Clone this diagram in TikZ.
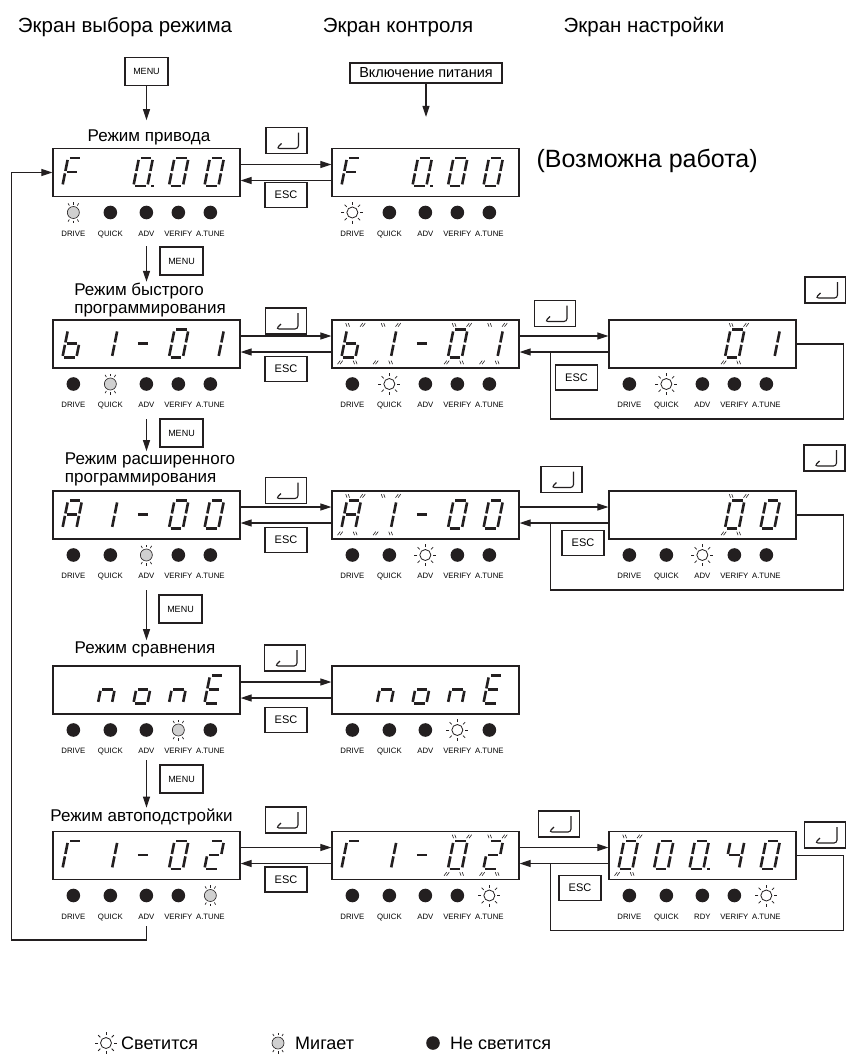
\documentclass[tikz,border=0pt]{standalone}
\usepackage{fontspec}
\setmainfont{Liberation Sans}
\usetikzlibrary{positioning,arrows.meta,calc}
\definecolor{Ink}{RGB}{35,31,32}
\definecolor{Blink}{RGB}{208,208,208}

% segment end points of one slanted digit (local units, y up)
\newcommand\segpoints{%
  \coordinate (a1) at (1.8,28);  \coordinate (a2) at (12.2,28);
  \coordinate (b1) at (14,26.2); \coordinate (b2) at (14,15.2);
  \coordinate (c1) at (14,12.8); \coordinate (c2) at (14,1.8);
  \coordinate (d1) at (1.8,0);   \coordinate (d2) at (12.2,0);
  \coordinate (e1) at (0,12.8);  \coordinate (e2) at (0,1.8);
  \coordinate (f1) at (0,26.2);  \coordinate (f2) at (0,15.2);
  \coordinate (g1) at (1.8,14);  \coordinate (g2) at (12.2,14);
  \coordinate (p1) at (18,0);    \coordinate (p2) at (20.6,0);}
\newcommand\flashmarks{%
  \draw[flashmark] (-0.5,31) -- (-2.5,34.5) (2,31) -- (0,34.5)
    (12.5,31) -- (14.5,34.5) (15,31) -- (17,34.5)
    (-0.5,-3) -- (-2.5,-6.5) (2,-3) -- (0,-6.5)
    (12.5,-3) -- (14.5,-6.5) (15,-3) -- (17,-6.5);}
% #1 display node, #2 list slot/segments/flashing
\newcommand\showchars[2]{%
  \foreach \k/\sg/\fl in {#2}{
    \begin{scope}[shift={($(#1.south west)+({10+\k*35.5},-11)$)},xslant=.2,yscale=-1]
      \segpoints
      \foreach \s in \sg {\draw[segline] (\s1) -- (\s2);}
      \ifnum\fl=1 \flashmarks\fi
    \end{scope}}}
% #1 name, #2 display node, #3 lit lamp, #4 its pic, #5 third label
\newcommand\ledrow[5]{%
  \foreach \dx/\lab [count=\i] in {21/DRIVE,58/QUICK,94/#5,126/VERIFY,158/A.TUNE}{
    \ifnum\i=#3 \pic at ($(#2.west)+(\dx,40)$) {#4};
    \else \pic at ($(#2.west)+(\dx,40)$) {ledoff};\fi
    \node[ledlab] (#1\i) at ($(#2.west)+(\dx,63.5)$) {\lab};}}

\begin{document}
\begin{tikzpicture}[x=1pt,y=-1pt,
 disp/.style={draw=Ink,line width=1.3pt,minimum width=187pt,minimum height=48pt,inner sep=0pt},
 keybox/.style={draw=Ink,line width=1.1pt,inner sep=0pt},
 menukey/.style={keybox,minimum width=43pt,minimum height=28pt,font=\fontsize{9}{10}\selectfont},
 esckey/.style={keybox,minimum width=42pt,minimum height=25pt,font=\fontsize{11}{12}\selectfont},
 enterkey/.style={keybox,minimum width=41pt,minimum height=26pt,
   path picture={\draw[line width=1.1pt,rounded corners=3pt]
     ($(path picture bounding box.center)+(12,-8)$) -- ++(0,16) -- ++(-22,0) -- ++(5,-5);}},
 powerkey/.style={keybox,minimum width=152pt,minimum height=20pt,font=\fontsize{14.5}{15}\selectfont},
 title/.style={font=\fontsize{20.5}{24}\selectfont},
 mode/.style={font=\fontsize{17}{18}\selectfont,align=left,inner sep=1pt},
 ledlab/.style={font=\fontsize{7.8}{9}\selectfont,inner sep=0pt,anchor=base},
 legtext/.style={font=\fontsize{18}{19}\selectfont,anchor=west,inner sep=0pt},
 a/.style={-{Triangle[length=11pt,width=7pt]},line width=1.2pt,Ink},
 l/.style={line width=1.2pt,Ink},
 segline/.style={line width=2.6pt,Ink},
 flashmark/.style={line width=.6pt,Ink},
 ledoff/.pic={\fill[Ink] (0,0) circle[radius=6.8pt];},
 ledon/.pic={\draw[Ink,line width=.8pt] (0,0) circle[radius=5.5pt];
   \foreach \w in {0,45,...,315} \draw[Ink,line width=.8pt] (\w:8pt) -- (\w:11pt);},
 ledblink/.pic={\draw[Ink,line width=.6pt,fill=Blink] (0,0) circle[radius=6pt];
   \foreach \w in {60,90,120,240,270,300} \draw[Ink,line width=.7pt] (\w:8pt) -- (\w:10.5pt);}]
\fill[white] (0,0) rectangle (846,1055);
\useasboundingbox (0,0) rectangle (846,1055);

\node[title] (t1) at (125,27) {Экран выбора режима};
\node[title] (t2) at (398,27) {Экран контроля};
\node[title] (t3) at (644,27) {Экран настройки};

\node[menukey] (menu0) at (146.5,71.5) {MENU};
\node[powerkey] (power) at (426,73) {Включение питания};

% displays
\node[disp] (d11) at (146.5,172.5) {};
\node[disp] (d12) at (425.5,172.5) {};
\node[disp] (d21) at (146.5,344) {};
\node[disp] (d22) at (425.5,344) {};
\node[disp] (d23) at (702.5,344) {};
\node[disp] (d31) at (146.5,515) {};
\node[disp] (d32) at (425.5,515) {};
\node[disp] (d33) at (702.5,515) {};
\node[disp] (d41) at (146.5,690) {};
\node[disp] (d42) at (425.5,690) {};
\node[disp] (d51) at (146.5,855.5) {};
\node[disp] (d52) at (425.5,855.5) {};
\node[disp] (d53) at (702.5,855.5) {};

% mode names
\node[mode] (lab1) at (149,137) {Режим привода};
\node[mode] (lab2) at (150,300) {Режим быстрого\\программирования};
\node[mode] (lab3) at (150,469) {Режим расширенного\\программирования};
\node[mode] (lab4) at (145,649) {Режим сравнения};
\node[mode] (lab5) at (141.5,817) {Режим автоподстройки};
\node[font=\fontsize{25}{28}\selectfont,anchor=west] (work) at (533,161) {(Возможна работа)};

% keys
\node[menukey] (menu1) at (181.5,261) {MENU};
\node[menukey] (menu2) at (181.5,433) {MENU};
\node[menukey] (menu3) at (180.5,609) {MENU};
\node[menukey] (menu4) at (181.5,779) {MENU};
\node[enterkey] (ent1) at (286.5,140.5) {};
\node[enterkey] (ent2) at (286,321) {};
\node[enterkey] (ent3) at (286,490.5) {};
\node[enterkey] (ent4) at (285,658) {};
\node[enterkey] (ent5) at (286,820) {};
\node[esckey] (esc1) at (286,195) {ESC};
\node[esckey] (esc2) at (286,369) {ESC};
\node[esckey] (esc3) at (286,540) {ESC};
\node[esckey] (esc4) at (286,720) {ESC};
\node[esckey] (esc5) at (286,879.5) {ESC};
\node[enterkey] (ent23) at (555,313.5) {};
\node[enterkey] (ent33) at (561.5,479.5) {};
\node[enterkey] (ent53) at (559,824) {};
\node[esckey] (esc23) at (576.5,377.5) {ESC};
\node[esckey] (esc33) at (583,543) {ESC};
\node[esckey] (esc53) at (580,888) {ESC};
\node[enterkey] (entr2) at (825.5,290) {};
\node[enterkey] (entr3) at (824.5,458) {};
\node[enterkey] (entr5) at (825,835) {};

% connectors
\draw[a,shorten >=8pt] (menu0.south) -- (menu0.south |- lab1.north);
\draw[a,shorten >=31pt] (power.south) -- (power.south |- d12.north);
\coordinate (go1) at (146.5,246);
\coordinate (go2) at (146.5,419);
\coordinate (go3) at (146.5,590);
\coordinate (go4) at (146.5,760);
\draw[a] (go1) -- (go1 |- lab2.north);
\draw[a] (go2) -- (go2 |- lab3.north);
\draw[a] (go3) -- (go3 |- lab4.north);
\draw[a] (go4) -- (go4 |- lab5.north);
\foreach \p/\q in {d11/d12,d21/d22,d31/d32,d41/d42,d51/d52,d22/d23,d32/d33,d52/d53}{
  \draw[a] ($(\p.east)+(0,-8)$) -- ($(\q.west)+(0,-8)$);
  \draw[a] ($(\q.west)+(0,8)$) -- ($(\p.east)+(0,8)$);}
\foreach \p/\q in {d22/d23,d32/d33,d52/d53}
  \draw[l] (\q.east) -- ++(47,0) -- ++(0,75) -| ($(\p.east)+(31,8)$);
\coordinate (back) at (146.5,926);
\draw[a] (back) -- ++(0,14) -| ($(d11.west)+(-41,0)$) -- (d11.west);

% lamps
\ledrow{q11}{d11}{1}{ledblink}{ADV}
\ledrow{q12}{d12}{1}{ledon}{ADV}
\ledrow{q21}{d21}{2}{ledblink}{ADV}
\ledrow{q22}{d22}{2}{ledon}{ADV}
\ledrow{q23}{d23}{2}{ledon}{ADV}
\ledrow{q31}{d31}{3}{ledblink}{ADV}
\ledrow{q32}{d32}{3}{ledon}{ADV}
\ledrow{q33}{d33}{3}{ledon}{ADV}
\ledrow{q41}{d41}{4}{ledblink}{ADV}
\ledrow{q42}{d42}{4}{ledon}{ADV}
\ledrow{q51}{d51}{5}{ledblink}{ADV}
\ledrow{q52}{d52}{5}{ledon}{ADV}
\ledrow{q53}{d53}{5}{ledon}{RDY}

% display digits
\showchars{d11}{0/{a,e,f,g}/0,2/{a,b,c,d,e,f,p}/0,3/{a,b,c,d,e,f}/0,4/{a,b,c,d,e,f}/0}
\showchars{d12}{0/{a,e,f,g}/0,2/{a,b,c,d,e,f,p}/0,3/{a,b,c,d,e,f}/0,4/{a,b,c,d,e,f}/0}
\showchars{d21}{0/{c,d,e,f,g}/0,1/{b,c}/0,2/{g}/0,3/{a,b,c,d,e,f}/0,4/{b,c}/0}
\showchars{d22}{0/{c,d,e,f,g}/1,1/{b,c}/1,2/{g}/0,3/{a,b,c,d,e,f}/1,4/{b,c}/1}
\showchars{d23}{3/{a,b,c,d,e,f}/1,4/{b,c}/0}
\showchars{d31}{0/{a,b,c,e,f,g}/0,1/{b,c}/0,2/{g}/0,3/{a,b,c,d,e,f}/0,4/{a,b,c,d,e,f}/0}
\showchars{d32}{0/{a,b,c,e,f,g}/1,1/{b,c}/1,2/{g}/0,3/{a,b,c,d,e,f}/0,4/{a,b,c,d,e,f}/0}
\showchars{d33}{3/{a,b,c,d,e,f}/1,4/{a,b,c,d,e,f}/0}
\showchars{d41}{1/{c,e,g}/0,2/{c,d,e,g}/0,3/{c,e,g}/0,4/{a,d,e,f,g}/0}
\showchars{d42}{1/{c,e,g}/0,2/{c,d,e,g}/0,3/{c,e,g}/0,4/{a,d,e,f,g}/0}
\showchars{d51}{0/{a,e,f}/0,1/{b,c}/0,2/{g}/0,3/{a,b,c,d,e,f}/0,4/{a,b,d,e,g}/0}
\showchars{d52}{0/{a,e,f}/0,1/{b,c}/0,2/{g}/0,3/{a,b,c,d,e,f}/1,4/{a,b,d,e,g}/1}
\showchars{d53}{0/{a,b,c,d,e,f}/1,1/{a,b,c,d,e,f}/0,2/{a,b,c,d,e,f,p}/0,3/{b,c,f,g}/0,4/{a,b,c,d,e,f}/0}

% legend
\pic at (106,1043) {ledon};
\node[legtext] (lg1) at (121,1043) {Светится};
\pic at (278,1043) {ledblink};
\node[legtext] (lg2) at (295,1043) {Мигает};
\pic at (433,1043) {ledoff};
\node[legtext] (lg3) at (450,1043) {Не светится};
\end{tikzpicture}
\end{document}
